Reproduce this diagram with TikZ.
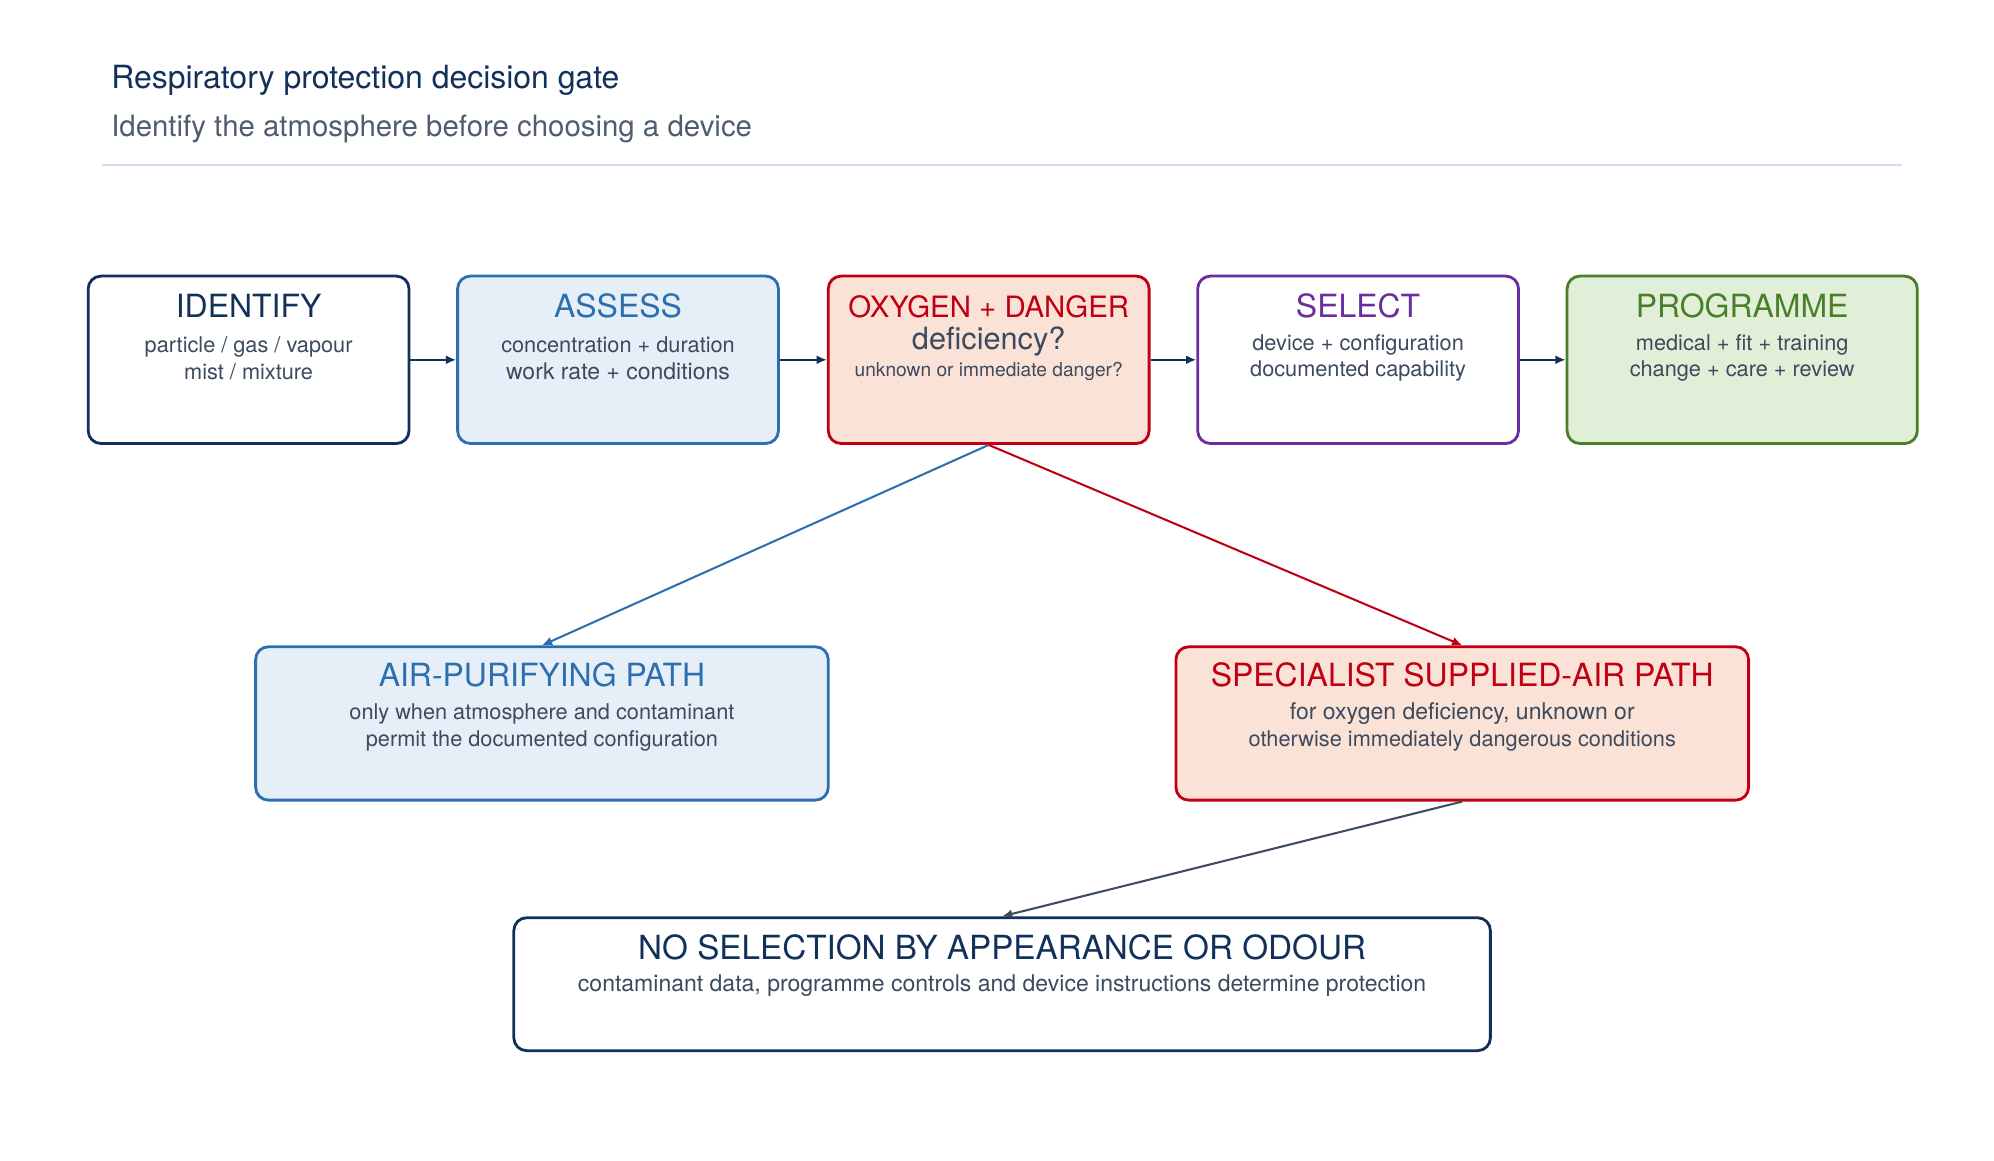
\documentclass[tikz,border=0pt]{standalone}
\usepackage{fontspec}
\setmainfont{TeX Gyre Heros}
\usetikzlibrary{arrows.meta}
\definecolor{navy}{HTML}{12315A}
\definecolor{txt}{HTML}{3C4A60}
\definecolor{blu}{HTML}{2C6FB0}
\definecolor{blufill}{HTML}{E6EFF7}
\definecolor{rd}{HTML}{C00012}
\definecolor{rdfill}{HTML}{FAE2D6}
\definecolor{pur}{HTML}{6A2D9F}
\definecolor{grn}{HTML}{4A7F2A}
\definecolor{grnfill}{HTML}{E1EFD8}
\definecolor{rule}{HTML}{D5DAF0}
\begin{document}
\begin{tikzpicture}[x=0.5pt,y=-0.5pt,
 box/.style={draw,rounded corners=5pt,line width=1.1pt},
 ttl/.style={font=\fontsize{12.5}{14}\selectfont},
 sub/.style={font=\fontsize{8.5}{10.5}\selectfont,text=txt,align=center},
 arr/.style={-{Latex[length=4pt,width=3.5pt]},line width=0.8pt}]
\useasboundingbox (0,0) rectangle (1560,908);
\node[anchor=west,text=navy,font=\fontsize{12.5}{14}\selectfont] (t) at (80,63) {Respiratory protection decision gate};
\node[anchor=west,text=txt!90,font=\fontsize{11.5}{14}\selectfont] (s) at (80,101) {Identify the atmosphere before choosing a device};
\draw[rule,line width=0.8pt] (80,129) -- (1488,129);
% row 1 boxes
\node[box,draw=navy,fill=white,minimum width=125.5pt,minimum height=65.5pt] (b1) at (194.5,281.5) {};
\node[box,draw=blu,fill=blufill,minimum width=125.5pt,minimum height=65.5pt] (b2) at (483.5,281.5) {};
\node[box,draw=rd,fill=rdfill,minimum width=125.5pt,minimum height=65.5pt] (b3) at (773.5,281.5) {};
\node[box,draw=pur,fill=white,minimum width=125.5pt,minimum height=65.5pt] (b4) at (1062.5,281.5) {};
\node[box,draw=grn,fill=grnfill,minimum width=137pt,minimum height=65.5pt] (b5) at (1363,281.5) {};
\node[ttl,text=navy] at (194.5,239) {IDENTIFY};
\node[sub] at (194.5,280) {particle / gas / vapour\\mist / mixture};
\node[ttl,text=blu] at (483.5,239) {ASSESS};
\node[sub] at (483.5,280) {concentration + duration\\\fontsize{9}{10.5}\selectfont work rate + conditions};
\node[ttl,text=rd,font=\fontsize{11.5}{14}\selectfont] at (773.5,240) {OXYGEN + DANGER};
\node[text=txt,font=\fontsize{12}{14}\selectfont] at (773.5,267) {deficiency?};
\node[sub,font=\fontsize{7.5}{9}\selectfont] at (773.5,291) {unknown or immediate danger?};
\node[ttl,text=pur] at (1062.5,239) {SELECT};
\node[sub] at (1062.5,280) {device + configuration\\documented capability};
\node[ttl,text=grn] at (1363,239) {PROGRAMME};
\node[sub] at (1363,280) {medical + fit + training\\change + care + review};
% row 2
\node[box,draw=blu,fill=blufill,minimum width=224pt,minimum height=60pt] (p1) at (424,566) {};
\node[box,draw=rd,fill=rdfill,minimum width=224pt,minimum height=60pt] (p2) at (1144,566) {};
\node[ttl,text=blu] at (424,528) {AIR-PURIFYING PATH};
\node[sub] at (424,569) {only when atmosphere and contaminant\\permit the documented configuration};
\node[ttl,text=rd] at (1144,528) {SPECIALIST SUPPLIED-AIR PATH};
\node[sub] at (1144,569) {\fontsize{9}{10.5}\selectfont for oxygen deficiency, unknown or\\otherwise immediately dangerous conditions};
% bottom
\node[box,draw=navy,fill=white,minimum width=382pt,minimum height=52pt] (n) at (784,770) {};
\node[ttl,text=navy,font=\fontsize{13}{15}\selectfont] at (784,741) {NO SELECTION BY APPEARANCE OR ODOUR};
\node[sub,font=\fontsize{9}{11}\selectfont] at (784,771) {contaminant data, programme controls and device instructions determine protection};
% arrows
\draw[arr,navy] (b1) -- (b2);
\draw[arr,navy] (b2) -- (b3);
\draw[arr,navy] (b3) -- (b4);
\draw[arr,navy] (b4) -- (b5);
\draw[arr,blu] (b3.south) -- (p1.north);
\draw[arr,rd] (b3.south) -- (p2.north);
\draw[arr,txt] (p2.south) -- (n.north);
\end{tikzpicture}
\end{document}
